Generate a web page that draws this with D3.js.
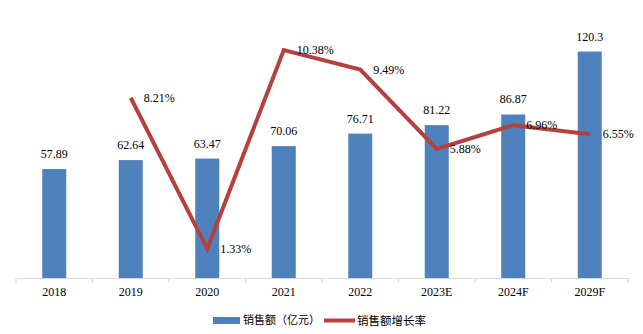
<!DOCTYPE html>
<html>
<head>
<meta charset="utf-8">
<script src="https://cdn.jsdelivr.net/npm/d3@7/dist/d3.min.js"></script>
<style>
  html, body { margin: 0; padding: 0; background: #fff; }
  svg { display: block; }
</style>
</head>
<body>
<div id="chart"></div>
<script>
// Sales (100 million yuan) and year-on-year growth rate
const years = ["2018", "2019", "2020", "2021", "2022", "2023E", "2024F", "2029F"];
const sales = [57.89, 62.64, 63.47, 70.06, 76.71, 81.22, 86.87, 120.3];
const growth = [null, 8.21, 1.33, 10.38, 9.49, 5.88, 6.96, 6.55];
const salesLabels = ["57.89", "62.64", "63.47", "70.06", "76.71", "81.22", "86.87", "120.3"];
const growthLabels = [null, "8.21%", "1.33%", "10.38%", "9.49%", "5.88%", "6.96%", "6.55%"];
const legendNames = ["销售额（亿元）", "销售额增长率"];

const W = 643, H = 334;
const plotLeft = 16, plotRight = 628, plotTop = 14.5, plotBottom = 278;
const barColor = "#4F81BD", lineColor = "#B5413E";
const serif = "'Liberation Serif', 'Times New Roman', serif";
const cjk = "'Noto Sans CJK SC', sans-serif";

const svg = d3.select("#chart").append("svg")
  .attr("width", W).attr("height", H);

const x = d3.scaleBand().domain(years).range([plotLeft, plotRight])
  .paddingInner(0.686).paddingOuter(0.343);
const xAxisScale = d3.scaleBand().domain(years).range([plotLeft, plotRight]);
const y = d3.scaleLinear().domain([0, 140]).range([plotBottom, plotTop]);
const y2 = d3.scaleLinear().domain([0, 12]).range([plotBottom, plotTop]);

// bars
svg.append("g").selectAll("rect").data(years).join("rect")
  .attr("x", d => x(d))
  .attr("y", (d, i) => y(sales[i]))
  .attr("width", x.bandwidth())
  .attr("height", (d, i) => plotBottom - y(sales[i]))
  .attr("fill", barColor);

// bar value labels
svg.append("g").selectAll("text").data(years).join("text")
  .attr("x", d => x(d) + x.bandwidth() / 2)
  .attr("y", (d, i) => y(sales[i]) - 11)
  .attr("text-anchor", "middle")
  .attr("font-family", serif)
  .attr("font-size", 12)
  .attr("fill", "#000")
  .text((d, i) => salesLabels[i]);

// x axis
const xAxis = d3.axisBottom(xAxisScale).tickSize(0).tickPadding(9);
const gx = svg.append("g").attr("transform", `translate(0,${plotBottom})`).call(xAxis);
gx.select(".domain").attr("stroke", "#D9D9D9").attr("stroke-width", 1.2);
gx.selectAll(".tick text")
  .attr("font-family", serif).attr("font-size", 12).attr("fill", "#000");
// category boundary ticks
const bounds = years.map(d => xAxisScale(d)).concat([plotRight]);
gx.append("g").selectAll("line").data(bounds).join("line")
  .attr("x1", d => d).attr("x2", d => d)
  .attr("y1", 0).attr("y2", 5)
  .attr("stroke", "#D9D9D9").attr("stroke-width", 1.2);

// growth line
const pts = years.map((d, i) => ({ d, v: growth[i], i })).filter(p => p.v !== null);
const cx = d => xAxisScale(d) + xAxisScale.bandwidth() / 2;
const line = d3.line().x(p => cx(p.d)).y(p => y2(p.v));
svg.append("path").datum(pts)
  .attr("d", line)
  .attr("fill", "none")
  .attr("stroke", lineColor)
  .attr("stroke-width", 4)
  .attr("stroke-linejoin", "miter");

// growth labels
svg.append("g").selectAll("text").data(pts).join("text")
  .attr("x", p => cx(p.d) + 13)
  .attr("y", p => y2(p.v))
  .attr("dy", "0.35em")
  .attr("font-family", serif)
  .attr("font-size", 12)
  .attr("fill", "#000")
  .text(p => growthLabels[p.i]);

// legend
const lg = svg.append("g");
lg.append("rect").attr("x", 213).attr("y", 317).attr("width", 27).attr("height", 7).attr("fill", barColor);
lg.append("text").attr("x", 243).attr("y", 320.5).attr("dy", "0.36em")
  .attr("font-family", cjk).attr("font-size", 11).attr("fill", "#000")
  .text(legendNames[0]);
lg.append("line").attr("x1", 324).attr("x2", 355).attr("y1", 320.5).attr("y2", 320.5)
  .attr("stroke", lineColor).attr("stroke-width", 4);
lg.append("text").attr("x", 357).attr("y", 320.5).attr("dy", "0.36em")
  .attr("font-family", cjk).attr("font-size", 11.5).attr("fill", "#000")
  .text(legendNames[1]);
</script>
</body>
</html>
